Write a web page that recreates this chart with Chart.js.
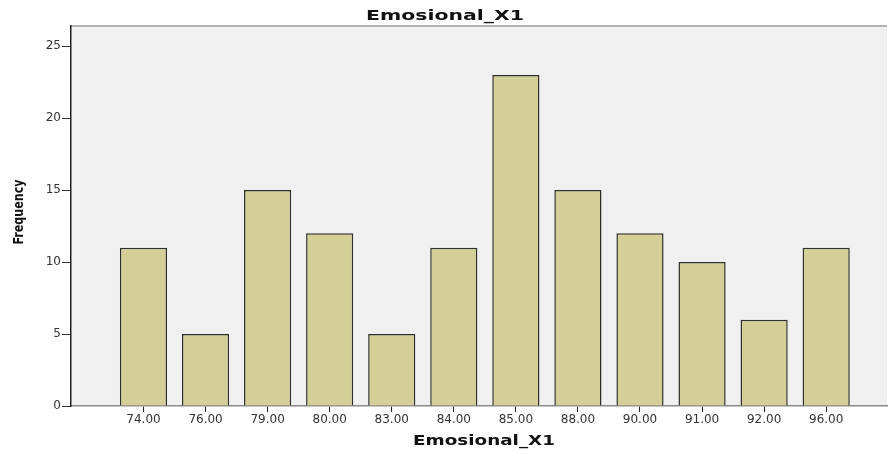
<!DOCTYPE html>
<html>
<head>
<meta charset="utf-8">
<script src="https://cdn.jsdelivr.net/npm/chart.js@4"></script>
<style>
  html, body { margin: 0; padding: 0; background: #fff; }
  #wrap { width: 888px; height: 452px; }
</style>
</head>
<body>
<div id="wrap"><canvas id="chart" width="888" height="452"></canvas></div>
<script>
// Emosional_X1 frequency table
const categories = ['74.00', '76.00', '79.00', '80.00', '83.00', '84.00', '85.00', '88.00', '90.00', '91.00', '92.00', '96.00'];
const frequencies = [11, 5, 15, 12, 5, 11, 23, 15, 12, 10, 6, 11];
const yTicks = [0, 5, 10, 15, 20, 25];
const chartTitle = 'Emosional_X1';
const xTitle = 'Emosional_X1';
const yTitle = 'Frequency';

// plot background + top frame line
const plotBackground = {
    id: 'plotBackground',
    beforeDraw(chart) {
        const { ctx, chartArea: a } = chart;
        ctx.save();
        ctx.fillStyle = '#f0f0f0';
        ctx.fillRect(a.left, a.top, a.right - a.left, a.bottom - a.top);
        ctx.strokeStyle = '#b4b4b4';
        ctx.lineWidth = 2;
        ctx.beginPath();
        ctx.moveTo(a.left, a.top);
        ctx.lineTo(a.right, a.top);
        ctx.stroke();
        ctx.restore();
    }
};

// SPSS style titles, stretched to the widths seen in the output
function stretchedText(ctx, text, font, cx, cy, length, rotate) {
    ctx.save();
    ctx.font = font;
    ctx.fillStyle = '#111';
    ctx.textAlign = 'center';
    ctx.textBaseline = 'alphabetic';
    const k = length / ctx.measureText(text).width;
    ctx.translate(cx, cy);
    if (rotate) ctx.rotate(-Math.PI / 2);
    ctx.scale(k, 1);
    ctx.fillText(text, 0, 0);
    ctx.restore();
}

const titles = {
    id: 'titles',
    afterDraw(chart) {
        const { ctx, chartArea: a } = chart;
        stretchedText(ctx, chartTitle, 'bold 14px "DejaVu Sans", sans-serif', chart.width / 2 + 1, 20, 158, false);
        stretchedText(ctx, xTitle, 'bold 14px "DejaVu Sans", sans-serif', (a.left + a.right) / 2 + 5, 445, 142, false);
        stretchedText(ctx, yTitle, 'bold 14px "DejaVu Sans Condensed", sans-serif', 23, (a.top + a.bottom) / 2 - 4, 65, true);
    }
};

const ctx = document.getElementById('chart').getContext('2d');
new Chart(ctx, {
    type: 'bar',
    data: {
        datasets: [{
            label: 'Frequency',
            data: frequencies.map((v, i) => ({ x: i, y: v })),
            backgroundColor: '#d3cf96',
            borderColor: '#2e2e2a',
            borderWidth: 1.5,
            borderSkipped: 'bottom',
            categoryPercentage: 1,
            barPercentage: 0.76
        }]
    },
    options: {
        responsive: false,
        animation: false,
        layout: { padding: { top: 26, right: 1 } },
        plugins: {
            legend: { display: false },
            tooltip: { enabled: false },
            title: { display: false }
        },
        scales: {
            x: {
                type: 'linear',
                min: -1.168,
                max: 11.98,
                offset: false,
                afterBuildTicks: scale => {
                    scale.ticks = categories.map((c, i) => ({ value: i }));
                },
                afterFit: scale => { scale.height = 46; },
                ticks: {
                    autoSkip: false,
                    maxRotation: 0,
                    padding: 1,
                    color: '#333',
                    font: { family: 'DejaVu Sans, sans-serif', size: 12 },
                    callback: v => categories[v]
                },
                grid: { offset: false, drawOnChartArea: false, drawTicks: true, tickLength: 6, color: '#222' },
                border: { color: '#8a8a8a', width: 1.5 }
            },
            y: {
                min: 0,
                max: 26.4,
                afterBuildTicks: scale => {
                    scale.ticks = yTicks.map(v => ({ value: v }));
                },
                afterFit: scale => { scale.width = 71; },
                ticks: {
                    padding: 1,
                    color: '#333',
                    font: { family: 'DejaVu Sans, sans-serif', size: 12 }
                },
                grid: { drawOnChartArea: false, drawTicks: true, tickLength: 9, color: '#333' },
                border: { color: '#222', width: 1.5 }
            }
        }
    },
    plugins: [plotBackground, titles]
});
</script>
</body>
</html>
